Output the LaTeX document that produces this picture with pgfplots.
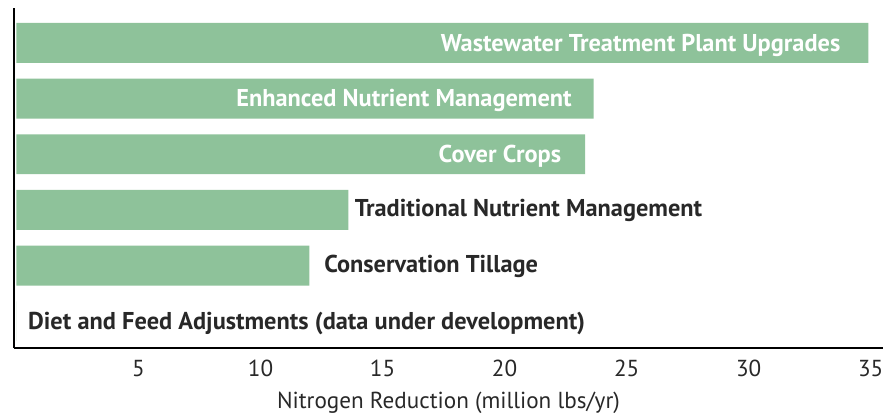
\documentclass[border=0pt]{standalone}
\usepackage{pgfplots}
\pgfplotsset{compat=1.18}
\usepackage{fontspec}
\setmainfont{PT Sans}
\definecolor{bargreen}{RGB}{142,194,154}
\definecolor{txt}{RGB}{40,40,40}
\begin{document}
\begin{tikzpicture}
\begin{axis}[
  scale only axis,
  width=435.5pt, height=170.5pt,
  xmin=-0.1, xmax=35.5,
  ymin=-0.484, ymax=5.627,
  axis x line*=bottom, axis y line*=left,
  axis line style={line width=0.9pt, black, -},
  xtick={5,10,15,20,25,30,35},
  ytick=\empty,
  major tick length=0pt,
  tick style={draw=none},
  /pgf/number format/assume math mode=true,
  xticklabel style={font=\fontsize{11.6}{13}\selectfont, text=txt, yshift=-2.5pt},
  xlabel={Nitrogen Reduction (million lbs/yr)},
  xlabel style={font=\fontsize{11.6}{13}\selectfont, text=txt, yshift=-0.5pt},
  xbar, bar width=20pt,
  clip=false,
]
\addplot[draw=none, fill=bargreen, bar shift=0pt] coordinates {
  (34.9,5) (23.65,4) (23.3,3) (13.6,2) (12.0,1) (0,0)
};
\tikzset{lab/.style={font=\fontsize{12.2}{14}\selectfont\bfseries}}
\node[lab, text=white, anchor=east] at ([xshift=-10.5pt,yshift=-1.5pt]axis cs:34.9,5) {Wastewater Treatment Plant Upgrades};
\node[lab, text=white, anchor=east] at ([xshift=-7.5pt,yshift=-1pt]axis cs:23.65,4) {Enhanced Nutrient Management};
\node[lab, text=white, anchor=east] at ([xshift=-8.5pt,yshift=-1pt]axis cs:23.3,3) {Cover Crops};
\node[lab, text=txt, anchor=west] at ([xshift=-0.3pt,yshift=-0.5pt]axis cs:13.6,2) {Traditional Nutrient Management};
\node[lab, text=txt, anchor=west] at ([xshift=4pt,yshift=-0.5pt]axis cs:12.0,1) {Conservation Tillage};
\node[lab, text=txt, anchor=west] at ([xshift=3.6pt,yshift=-1pt]axis cs:-0.1,0) {Diet and Feed Adjustments (data under development)};
\end{axis}
\path (current axis.south west) ++(-7pt,-33.5pt) coordinate (bbA);
\path (current axis.north east) ++(2.5pt,4pt) coordinate (bbB);
\useasboundingbox (bbA) rectangle (bbB);
\end{tikzpicture}
\end{document}
